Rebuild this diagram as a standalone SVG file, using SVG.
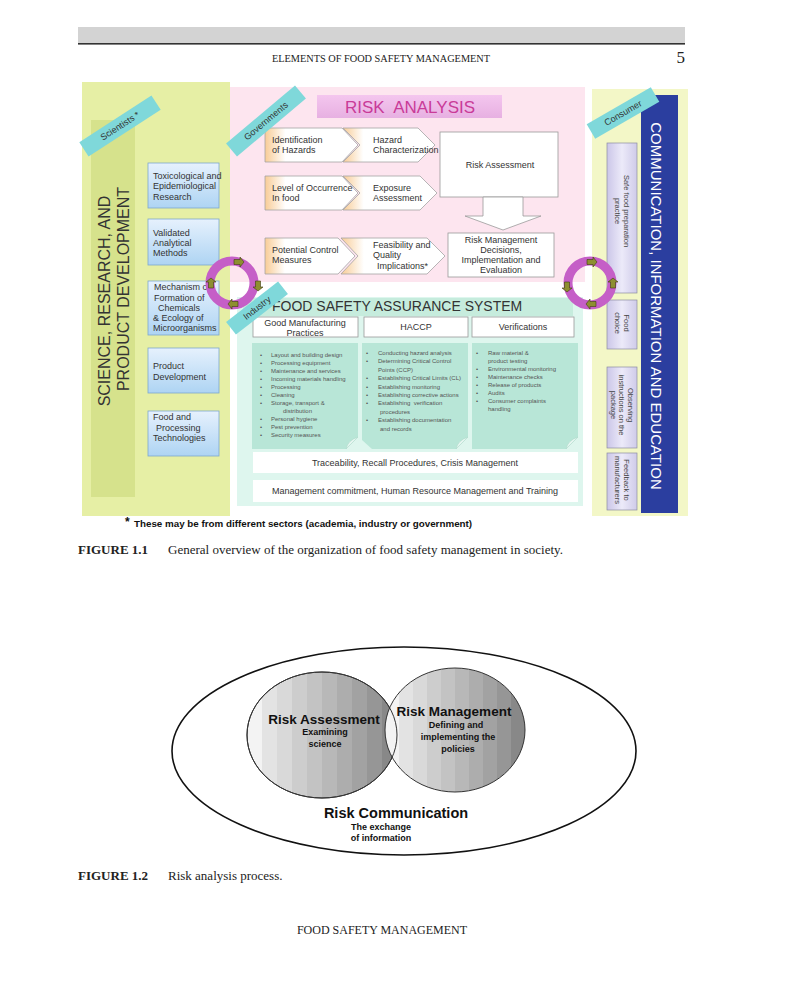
<svg xmlns="http://www.w3.org/2000/svg" width="800" height="987" viewBox="0 0 800 987">
<defs>
<linearGradient id="blue" x1="0" y1="0" x2="0" y2="1"><stop offset="0" stop-color="#e6f1fd"/><stop offset="1" stop-color="#aed4f3"/></linearGradient>
<linearGradient id="chev" x1="0" y1="0" x2="1" y2="0"><stop offset="0" stop-color="#f8cc96"/><stop offset="0.22" stop-color="#ffffff"/><stop offset="1" stop-color="#ffffff"/></linearGradient>
<linearGradient id="lav" x1="0" y1="0" x2="1" y2="0"><stop offset="0" stop-color="#cbc6e8"/><stop offset="0.5" stop-color="#eceaf9"/><stop offset="1" stop-color="#cfcbe9"/></linearGradient>
<linearGradient id="ra" x1="0" y1="0" x2="0" y2="1"><stop offset="0" stop-color="#f4c6ee"/><stop offset="1" stop-color="#e7b0e2"/></linearGradient>
<linearGradient id="sph" x1="0" y1="0" x2="1" y2="0">
<stop offset="0" stop-color="#f3f3f3"/><stop offset="0.1" stop-color="#f3f3f3"/>
<stop offset="0.1" stop-color="#e3e3e3"/><stop offset="0.2" stop-color="#e3e3e3"/>
<stop offset="0.2" stop-color="#d9d9d9"/><stop offset="0.3" stop-color="#d9d9d9"/>
<stop offset="0.3" stop-color="#cdcdcd"/><stop offset="0.4" stop-color="#cdcdcd"/>
<stop offset="0.4" stop-color="#c3c3c3"/><stop offset="0.5" stop-color="#c3c3c3"/>
<stop offset="0.5" stop-color="#b8b8b8"/><stop offset="0.6" stop-color="#b8b8b8"/>
<stop offset="0.6" stop-color="#adadad"/><stop offset="0.7" stop-color="#adadad"/>
<stop offset="0.7" stop-color="#a2a2a2"/><stop offset="0.8" stop-color="#a2a2a2"/>
<stop offset="0.8" stop-color="#969696"/><stop offset="0.9" stop-color="#969696"/>
<stop offset="0.9" stop-color="#888888"/><stop offset="1" stop-color="#888888"/>
</linearGradient>
<polygon id="arrR" points="-5,-2.5 1,-2.5 1,-5 5,0 1,5 1,2.5 -5,2.5"/>
</defs>
<style>
.s{font-family:"Liberation Sans",Arial,sans-serif;fill:#333}
.f9{font-size:9px}
.f8{font-size:7.5px;fill:#444}
.f6{font-size:6px;fill:#555}
.serif{font-family:"Liberation Serif","Times New Roman",serif;fill:#222}
.b{font-weight:bold}
.box{fill:url(#blue);stroke:#7ea8cc;stroke-width:0.8}
.chev{fill:url(#chev);stroke:#a3a3a3;stroke-width:0.8}
.wbox{fill:#fff;stroke:#9a9a9a;stroke-width:0.8}
.lav{fill:url(#lav);stroke:#8c8ca2;stroke-width:0.7}
.rib{fill:#7fd8da}
.card{fill:#b8e6d7}
.curl{fill:#e6f6f0;stroke:#a9d6c6;stroke-width:0.5}
.ring{fill:none;stroke:#c55fc7;stroke-width:9}
.arr{fill:#8d8f30;stroke:#3f3a10;stroke-width:0.6}
.sph{fill:url(#sph);stroke:#333;stroke-width:1}
</style>

<!-- page header -->
<g id="header">
<rect x="78" y="27" width="607" height="16" fill="#d3d3d3"/>
<rect x="78" y="43" width="607" height="1.6" fill="#333"/>
<text class="serif" x="381" y="62" font-size="10.3" text-anchor="middle">ELEMENTS OF FOOD SAFETY MANAGEMENT</text>
<text class="serif" x="685" y="63" font-size="17" text-anchor="end">5</text>
</g>

<!-- panels -->
<g id="panel-science">
<rect x="82" y="82" width="148" height="434" fill="#e6efa5"/>
<rect x="91" y="120" width="44" height="377" fill="#d6e28c"/>
<text class="s" font-size="16" transform="translate(110,301) rotate(-90)" text-anchor="middle">SCIENCE, RESEARCH, AND</text>
<text class="s" font-size="16" transform="translate(129,289) rotate(-90)" text-anchor="middle">PRODUCT DEVELOPMENT</text>
</g>
<g id="panel-risk">
<rect x="230" y="87" width="355" height="195" fill="#fde5ef"/>
</g>
<g id="panel-fsa">
<rect x="237" y="297" width="346" height="209" fill="#def6ee"/>
<rect x="243" y="298" width="330" height="18" fill="#c6ecdd"/>
<text class="s" x="272" y="311" font-size="14">FOOD SAFETY ASSURANCE SYSTEM</text>
</g>
<g id="panel-comm">
<rect x="592" y="89" width="96" height="427" fill="#f3f7c7"/>
<rect x="641" y="95" width="37" height="418" fill="#2b3e9f"/>
<text class="s" font-size="15" style="fill:#fff" transform="translate(651,306) rotate(90)" text-anchor="middle">COMMUNICATION, INFORMATION AND EDUCATION</text>
</g>

<!-- science boxes -->
<g id="toxicological">
<rect class="box" x="148" y="163" width="71" height="45"/>
<text class="s f9" x="153" y="179">Toxicological and</text>
<text class="s f9" x="153" y="189">Epidemiological</text>
<text class="s f9" x="153" y="199.5">Research</text>
</g>
<g id="validated">
<rect class="box" x="148" y="219" width="71" height="46"/>
<text class="s f9" x="153" y="236">Validated</text>
<text class="s f9" x="153" y="246">Analytical</text>
<text class="s f9" x="153" y="256">Methods</text>
</g>
<g id="mechanism">
<rect class="box" x="148" y="281" width="71" height="54"/>
<text class="s f9" x="154" y="290">Mechanism of</text>
<text class="s f9" x="154" y="301">Formation of</text>
<text class="s f9" x="158" y="311">Chemicals</text>
<text class="s f9" x="153" y="321">&amp; Ecology of</text>
<text class="s f9" x="153" y="331">Microorganisms</text>
</g>
<g id="product">
<rect class="box" x="148" y="348" width="71" height="45"/>
<text class="s f9" x="153" y="369">Product</text>
<text class="s f9" x="153" y="380">Development</text>
</g>
<g id="food-tech">
<rect class="box" x="148" y="411" width="71" height="45"/>
<text class="s f9" x="153" y="420">Food and</text>
<text class="s f9" x="156" y="431">Processing</text>
<text class="s f9" x="153" y="441">Technologies</text>
</g>

<!-- risk analysis -->
<g id="risk-title">
<rect x="317" y="95" width="185" height="23" fill="url(#ra)"/>
<text class="s" x="410" y="113" font-size="17" text-anchor="middle" style="fill:#c93b98" xml:space="preserve">RISK  ANALYSIS</text>
</g>
<g id="identification">
<polygon class="chev" points="265,128 342,128 358,145 342,162 265,162"/>
<text class="s f9" x="272" y="143">Identification</text>
<text class="s f9" x="272" y="153">of Hazards</text>
</g>
<g id="hazard-char">
<polygon class="chev" points="343,128 418,128 435,145 418,162 343,162 360,145"/>
<text class="s f9" x="373" y="143">Hazard</text>
<text class="s f9" x="373" y="153">Characterization</text>
</g>
<g id="occurrence">
<polygon class="chev" points="265,176 342,176 358,193 342,210 265,210"/>
<text class="s f9" x="272" y="191">Level of Occurrence</text>
<text class="s f9" x="272" y="201">In food</text>
</g>
<g id="exposure">
<polygon class="chev" points="343,176 420,176 437,193 420,210 343,210 360,193"/>
<text class="s f9" x="373" y="191">Exposure</text>
<text class="s f9" x="373" y="201">Assessment</text>
</g>
<g id="control">
<polygon class="chev" points="265,238 338,238 355,256 338,274 265,274"/>
<text class="s f9" x="272" y="253">Potential Control</text>
<text class="s f9" x="272" y="263">Measures</text>
</g>
<g id="feasibility">
<polygon class="chev" points="341,238 427,238 445,256 427,274 341,274 358,256"/>
<text class="s f9" x="373" y="248">Feasibility and</text>
<text class="s f9" x="373" y="258">Quality</text>
<text class="s f9" x="377" y="269">Implications*</text>
</g>
<g id="risk-assessment">
<rect class="wbox" x="440" y="132" width="118" height="65"/>
<text class="s f9" x="500" y="168" text-anchor="middle">Risk Assessment</text>
</g>
<g id="connectors">
<polygon points="483,197 523,197 523,216 541,216 503,230 465,216 483,216" fill="#fff" stroke="#9a9a9a" stroke-width="0.8"/>
</g>
<g id="risk-management">
<rect class="wbox" x="448" y="233" width="106" height="44"/>
<text class="s f9" x="501" y="243" text-anchor="middle">Risk Management</text>
<text class="s f9" x="501" y="253" text-anchor="middle">Decisions,</text>
<text class="s f9" x="501" y="263" text-anchor="middle">Implementation and</text>
<text class="s f9" x="501" y="272.5" text-anchor="middle">Evaluation</text>
</g>

<!-- FSA -->
<g id="gmp">
<rect class="wbox" x="253" y="317" width="105" height="20"/>
<text class="s f9" x="305" y="326" text-anchor="middle">Good Manufacturing</text>
<text class="s f9" x="305" y="336" text-anchor="middle">Practices</text>
</g>
<g id="haccp">
<rect class="wbox" x="364" y="317" width="104" height="20"/>
<text class="s f9" x="416" y="330" text-anchor="middle">HACCP</text>
</g>
<g id="verifications">
<rect class="wbox" x="472" y="317" width="102" height="20"/>
<text class="s f9" x="523" y="330" text-anchor="middle">Verifications</text>
</g>
<g id="card-gmp">
<path class="card" d="M252,343 H358 V437 L346,449 H252 Z"/>
<path class="curl" d="M358,437 L346,449 Q348,440 358,437 Z"/>
<g class="s f6">
<text x="260" y="357">•</text><text x="271" y="357">Layout and building design</text>
<text x="260" y="365">•</text><text x="271" y="365">Processing equipment</text>
<text x="260" y="373">•</text><text x="271" y="373">Maintenance and services</text>
<text x="260" y="381">•</text><text x="271" y="381">Incoming materials handling</text>
<text x="260" y="389">•</text><text x="271" y="389">Processing</text>
<text x="260" y="397">•</text><text x="271" y="397">Cleaning</text>
<text x="260" y="405">•</text><text x="271" y="405">Storage, transport &amp;</text>
<text x="283" y="413">distribution</text>
<text x="260" y="421">•</text><text x="271" y="421">Personal hygiene</text>
<text x="260" y="429">•</text><text x="271" y="429">Pest prevention</text>
<text x="260" y="437">•</text><text x="271" y="437">Security measures</text>
</g>
</g>
<g id="card-haccp">
<path class="card" d="M362,343 H468 V437 L456,449 H372 L362,440 Z"/>
<path class="curl" d="M468,437 L456,449 Q458,440 468,437 Z"/>
<g class="s f6">
<text x="366" y="355">•</text><text x="378" y="355">Conducting hazard analysis</text>
<text x="366" y="363.4">•</text><text x="378" y="363.4">Determining Critical Control</text>
<text x="378" y="371.8">Points (CCP)</text>
<text x="366" y="380.2">•</text><text x="378" y="380.2">Establishing Critical Limits (CL)</text>
<text x="366" y="388.6">•</text><text x="378" y="388.6">Establishing monitoring</text>
<text x="366" y="397">•</text><text x="378" y="397">Establishing corrective actions</text>
<text x="366" y="405.4">•</text><text x="378" y="405.4" xml:space="preserve">Establishing  verification</text>
<text x="380" y="413.8">procedures</text>
<text x="366" y="422.2">•</text><text x="378" y="422.2">Establishing documentation</text>
<text x="380" y="430.6">and records</text>
</g>
</g>
<g id="card-verif">
<path class="card" d="M472,343 H578 V437 L566,449 H472 Z"/>
<path class="curl" d="M578,437 L566,449 Q568,440 578,437 Z"/>
<g class="s f6">
<text x="476" y="355">•</text><text x="488" y="355">Raw material &amp;</text>
<text x="488" y="363">product testing</text>
<text x="476" y="371">•</text><text x="488" y="371">Environmental monitoring</text>
<text x="476" y="379">•</text><text x="488" y="379">Maintenance checks</text>
<text x="476" y="387">•</text><text x="488" y="387">Release of products</text>
<text x="476" y="395">•</text><text x="488" y="395">Audits</text>
<text x="476" y="403">•</text><text x="488" y="403">Consumer complaints</text>
<text x="488" y="411">handling</text>
</g>
</g>
<g id="traceability">
<rect x="253" y="452" width="325" height="21" fill="#fff"/>
<text class="s f9" x="415" y="466" text-anchor="middle">Traceability, Recall Procedures, Crisis Management</text>
</g>
<g id="commitment">
<rect x="253" y="480" width="325" height="22" fill="#fff"/>
<text class="s f9" x="415" y="494" text-anchor="middle">Management commitment, Human Resource Management and Training</text>
</g>

<!-- consumer boxes -->
<g id="safe-food">
<rect class="lav" x="607" y="143" width="30" height="150"/>
<g transform="translate(622,211) rotate(90)"><text class="s f8" x="0" y="-1.6" text-anchor="middle">Safe food preparation</text><text class="s f8" x="0" y="7" text-anchor="middle">practice</text></g>
</g>
<g id="food-choice">
<rect class="lav" x="607" y="300" width="30" height="49"/>
<g transform="translate(622,323) rotate(90)"><text class="s f8" x="0" y="-1.6" text-anchor="middle">Food</text><text class="s f8" x="0" y="7" text-anchor="middle">choice</text></g>
</g>
<g id="observing">
<rect class="lav" x="607" y="367" width="30" height="81"/>
<g transform="translate(622,405) rotate(90)"><text class="s f8" x="0" y="-5.8" text-anchor="middle">Observing</text><text class="s f8" x="0" y="2.8" text-anchor="middle">instructions on the</text><text class="s f8" x="0" y="11.4" text-anchor="middle">package</text></g>
</g>
<g id="feedback">
<rect class="lav" x="607" y="453" width="30" height="57"/>
<g transform="translate(622,480) rotate(90)"><text class="s f8" x="0" y="-1.6" text-anchor="middle">Feedback to</text><text class="s f8" x="0" y="7" text-anchor="middle">manufacturers</text></g>
</g>

<!-- rings -->
<g id="ring-left">
<circle class="ring" cx="232" cy="283" r="22"/>
<use href="#arrR" class="arr" transform="translate(239,262)"/>
<use href="#arrR" class="arr" transform="translate(258,286) rotate(90)"/>
<use href="#arrR" class="arr" transform="translate(233,304) rotate(180)"/>
<use href="#arrR" class="arr" transform="translate(211,283) rotate(-90)"/>
</g>
<g id="ring-right">
<circle class="ring" cx="590" cy="283" r="22"/>
<use href="#arrR" class="arr" transform="translate(592,262)"/>
<use href="#arrR" class="arr" transform="translate(567,287) rotate(90)"/>
<use href="#arrR" class="arr" transform="translate(591,304) rotate(180)"/>
<use href="#arrR" class="arr" transform="translate(613,283) rotate(-90)"/>
</g>

<!-- ribbons -->
<g id="scientists" transform="translate(120,126) rotate(-33)">
<rect class="rib" x="-43" y="-8.5" width="86" height="17"/>
<text class="s f9" x="0" y="3" text-anchor="middle">Scientists *</text>
</g>
<g id="governments" transform="translate(266,121) rotate(-40)">
<rect class="rib" x="-45" y="-8.5" width="90" height="17"/>
<text class="s f9" x="0" y="3" text-anchor="middle">Governments</text>
</g>
<g id="industry" transform="translate(257,308) rotate(-38)">
<rect class="rib" x="-33" y="-8" width="66" height="16"/>
<text class="s f9" x="0" y="3" text-anchor="middle">Industry</text>
</g>
<g id="consumer" transform="translate(623,113) rotate(-30)">
<rect class="rib" x="-37" y="-8.5" width="74" height="17"/>
<text class="s f9" x="0" y="3" text-anchor="middle">Consumer</text>
</g>

<!-- footnote and caption 1.1 -->
<g id="footnote">
<text class="s b" x="125" y="526" font-size="12" style="fill:#111">*</text>
<text class="s b" x="134" y="527" font-size="9.8" style="fill:#111">These may be from different sectors (academia, industry or government)</text>
</g>
<g id="caption-1-1">
<text class="serif b" x="78" y="554" font-size="13">FIGURE 1.1</text>
<text class="serif" x="168" y="554" font-size="13">General overview of the organization of food safety management in society.</text>
</g>

<!-- Figure 1.2 -->
<g id="risk-communication">
<ellipse cx="404" cy="751" rx="232" ry="104" fill="#fff" stroke="#111" stroke-width="1.6"/>
<text class="s b" x="396" y="818" font-size="14.5" text-anchor="middle" style="fill:#111">Risk Communication</text>
<text class="s b f9" x="381" y="830" text-anchor="middle" style="fill:#111">The exchange</text>
<text class="s b f9" x="381" y="841" text-anchor="middle" style="fill:#111">of information</text>
</g>
<g id="risk-assessment-circle">
<ellipse class="sph" cx="322" cy="735" rx="75" ry="63"/>
</g>
<g id="risk-management-circle">
<ellipse class="sph" cx="455" cy="730" rx="70" ry="62"/>
<ellipse cx="322" cy="735" rx="75" ry="63" fill="none" stroke="#333" stroke-width="1"/>
</g>
<g id="fig2-labels">
<text class="s b" x="324" y="724" font-size="13.5" text-anchor="middle" style="fill:#111">Risk Assessment</text>
<text class="s b f9" x="325" y="735" text-anchor="middle" style="fill:#111">Examining</text>
<text class="s b f9" x="325" y="747" text-anchor="middle" style="fill:#111">science</text>
<text class="s b" x="454" y="716" font-size="13.5" text-anchor="middle" style="fill:#111">Risk Management</text>
<text class="s b f9" x="456" y="728" text-anchor="middle" style="fill:#111">Defining and</text>
<text class="s b f9" x="458" y="740" text-anchor="middle" style="fill:#111">implementing the</text>
<text class="s b f9" x="458" y="752" text-anchor="middle" style="fill:#111">policies</text>
</g>
<g id="caption-1-2">
<text class="serif b" x="78" y="880" font-size="13">FIGURE 1.2</text>
<text class="serif" x="168" y="880" font-size="13">Risk analysis process.</text>
</g>
<g id="footer">
<text class="serif" x="382" y="934" font-size="12" text-anchor="middle">FOOD SAFETY MANAGEMENT</text>
</g>
</svg>
